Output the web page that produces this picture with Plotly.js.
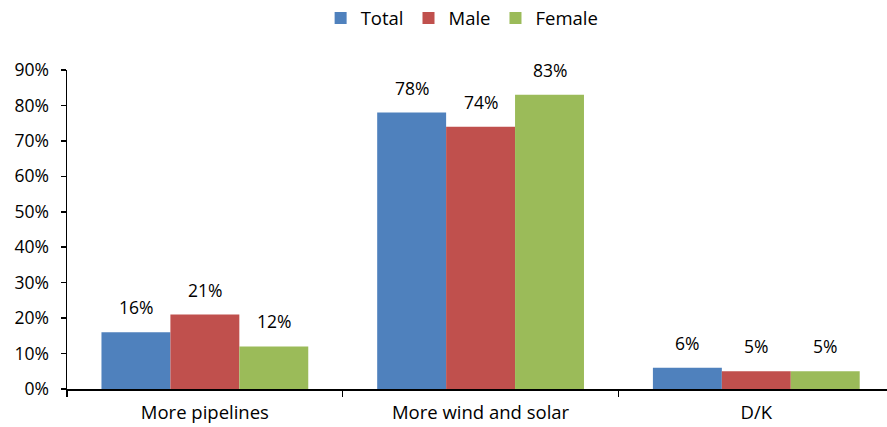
<!DOCTYPE html>
<html><head><meta charset="utf-8">
<script src="https://cdn.plot.ly/plotly-3.0.1.min.js"></script>
<style>html,body{margin:0;padding:0;background:#fff}#chart{width:887px;height:427px}</style>
</head><body><div id="chart"></div>
<script>
const categories = ["More pipelines", "More wind and solar", "D/K"];
const total = [16, 78, 6];
const male = [21, 74, 5];
const female = [12, 83, 5];
const seriesNames = ["Total", "Male", "Female"];
const colors = ["#4F81BD", "#C0504D", "#9BBB59"];
const yTicks = [0,10,20,30,40,50,60,70,80,90];
const yTickLabels = yTicks.map(v => v + "%");

const series = [total, male, female];
const font = {family: "'Open Sans', sans-serif", size: 17.5, color: "#000"};
const xfont = {family: "'Open Sans', sans-serif", size: 18.5, color: "#000"};
const traces = series.map((vals, i) => ({
  type: "bar", name: seriesNames[i], x: categories, y: vals,
  marker: {color: colors[i], line: {width: 0}},
  hoverinfo: "skip"
}));
const shifts = [-69, 0, 69];
const annotations = [];
series.forEach((vals, i) => vals.forEach((v, j) => annotations.push({
  x: categories[j], y: v, xref: "x", yref: "y", text: v + "%", showarrow: false,
  xshift: shifts[i], yshift: 11, yanchor: "bottom", font: font
})));
const layout = {
  width: 887, height: 427,
  margin: {l: 67, r: 0, t: 70, b: 38, autoexpand: false},
  paper_bgcolor: "#fff", plot_bgcolor: "#fff",
  font: font,
  barmode: "group", bargap: 0.25, bargroupgap: 0,
  showlegend: true,
  legend: {orientation: "h", x: 0.521, xanchor: "center", y: 0.957, yanchor: "middle", yref: "container", xref: "container",
    font: xfont, itemwidth: 30, tracegroupgap: 0, itemclick: false},
  xaxis: {type: "category", range: [-0.5, 2.474], showline: true, linecolor: "#000", linewidth: 1.5,
    ticks: "outside", tickson: "boundaries", ticklen: 6, tickcolor: "#000", tickwidth: 1.5,
    ticklabelstandoff: 6,
    showgrid: false, zeroline: false, tickfont: xfont, fixedrange: true},
  yaxis: {range: [0, 90], tickvals: yTicks, ticktext: yTickLabels, showline: true, linecolor: "#000",
    linewidth: 1.5, ticks: "outside", ticklen: 5, tickcolor: "#000", tickwidth: 1.5,
    ticklabelstandoff: 8,
    showgrid: false, zeroline: false, tickfont: font, fixedrange: true},
  annotations: annotations
};
Plotly.newPlot("chart", traces, layout, {displayModeBar: false, staticPlot: true});
</script></body></html>
